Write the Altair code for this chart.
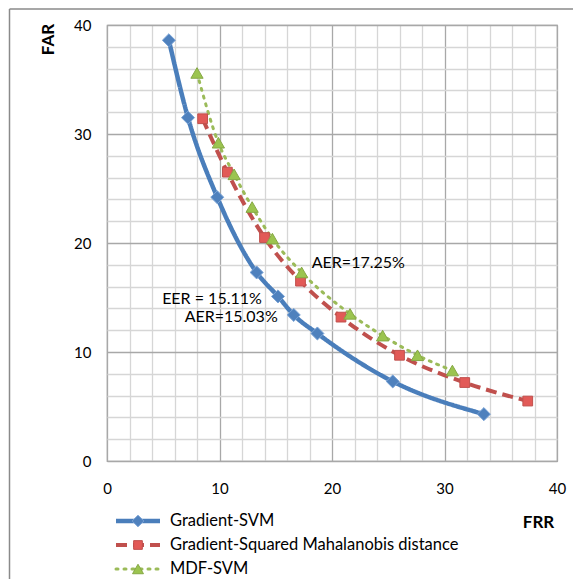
import altair as alt
import pandas as pd

# ---- data ----
series_names = ["Gradient-SVM", "Gradient-Squared Mahalanobis distance", "MDF-SVM"]

frr_svm = [5.5, 7.2, 9.8, 13.3, 15.2, 16.6, 18.7, 25.4, 33.5]
far_svm = [38.6, 31.5, 24.2, 17.3, 15.1, 13.4, 11.7, 7.3, 4.3]

frr_mah = [8.5, 10.7, 14.0, 17.2, 20.8, 26.0, 31.8, 37.4]
far_mah = [31.4, 26.5, 20.5, 16.5, 13.2, 9.7, 7.2, 5.5]

frr_mdf = [8.0, 9.9, 11.3, 12.9, 14.7, 17.3, 21.6, 24.5, 27.6, 30.7]
far_mdf = [35.6, 29.2, 26.3, 23.3, 20.4, 17.3, 13.5, 11.5, 9.7, 8.3]

ann_text = ["AER=17.25%", "EER = 15.11%", "AER=15.03%"]
ann_x = [18.2, 4.9, 6.9]
ann_y = [18.2, 14.85, 13.2]

tick_values = list(range(0, 41, 2))

FONT = "Lato"

# ---- styles ----
styles = [
    dict(line="#4A7EBB", width=4.5, dash=[1, 0], shape="diamond", size=170,
         fill="#4F81BD", stroke="#7AA3D6"),
    dict(line="#C0504D", width=4, dash=[11, 6], shape="square", size=95,
         fill="#E25A57", stroke="#C0504D"),
    dict(line="#9BBB59", width=3, dash=[2, 6], shape="triangle-up", size=150,
         fill="#9BC44F", stroke="#86A845"),
]
data_x = [frr_svm, frr_mah, frr_mdf]
data_y = [far_svm, far_mah, far_mdf]

grid_color = {"condition": {"test": "datum.value % 10 === 0", "value": "#a8a8a8"},
              "value": "#d6d6d6"}

xaxis = alt.Axis(values=tick_values, labelExpr="datum.value % 10 === 0 ? datum.label : ''",
                 grid=True, gridColor=grid_color, gridWidth=1.3, domain=False, ticks=False,
                 labelFlush=False, labelOverlap=False,
                 labelPadding=20, labelFontSize=15, labelFont=FONT, labelColor="#000",
                 title="FRR", titleFont=FONT, titleFontSize=17, titleFontWeight="bold",
                 titleX=431, titleY=61, titleBaseline="middle", titleAlign="center",
                 titleColor="#000")
yaxis = alt.Axis(values=tick_values, labelExpr="datum.value % 10 === 0 ? datum.label : ''",
                 grid=True, gridColor=grid_color, gridWidth=1.3, domain=False, ticks=False,
                 labelFlush=False, labelOverlap=False,
                 labelPadding=16, labelFontSize=15, labelFont=FONT, labelColor="#000",
                 title="FAR", titleFont=FONT, titleFontSize=17, titleFontWeight="bold",
                 titleX=-59, titleY=14, titleBaseline="middle", titleAlign="center",
                 titleAngle=270, titleColor="#000")

xs = alt.Scale(domain=[0, 40], nice=False)
ys = alt.Scale(domain=[0, 40], nice=False)
X = alt.X("FRR:Q", scale=xs, axis=xaxis)
Y = alt.Y("FAR:Q", scale=ys, axis=yaxis)

main_layers = []
for i, st in enumerate(styles):
    df = pd.DataFrame({"FRR": data_x[i], "FAR": data_y[i]})
    main_layers.append(
        alt.Chart(df).mark_line(color=st["line"], strokeWidth=st["width"],
                                strokeDash=st["dash"], interpolate="monotone",
                                strokeCap="round" if i == 2 else "butt")
        .encode(x=X, y=Y)
    )
for i, st in enumerate(styles):
    df = pd.DataFrame({"FRR": data_x[i], "FAR": data_y[i]})
    main_layers.append(
        alt.Chart(df).mark_point(shape=st["shape"], size=st["size"], filled=True,
                                 fill=st["fill"], stroke=st["stroke"], strokeWidth=1,
                                 opacity=1)
        .encode(x=X, y=Y)
    )

ann_df = pd.DataFrame({"FRR": ann_x, "FAR": ann_y, "label": ann_text})
main_layers.append(
    alt.Chart(ann_df).mark_text(align="left", baseline="middle", font=FONT,
                                fontSize=16, color="#000")
    .encode(x=X, y=Y, text="label:N")
)

main = alt.layer(*main_layers)

# ---- legend built from the series names ----
leg_scale = alt.Scale(domain=[0, 2], range=[496, 544], nice=False, zero=False)
leg_layers = []
for i, st in enumerate(styles):
    ldf = pd.DataFrame({"series": [series_names[i]], "row": [i]})
    LY = alt.Y("row:Q", scale=leg_scale, axis=None)
    leg_layers.append(
        alt.Chart(ldf).mark_rule(color=st["line"], strokeWidth=st["width"],
                                 strokeDash=st["dash"],
                                 strokeCap="round" if i == 2 else "butt")
        .encode(x=alt.value(9), x2=alt.value(53), y=LY)
    )
    leg_layers.append(
        alt.Chart(ldf).mark_point(shape=st["shape"], size=st["size"] * 0.8, filled=True,
                                  fill=st["fill"], stroke=st["stroke"], strokeWidth=1,
                                  opacity=1)
        .encode(x=alt.value(31), y=LY)
    )
    leg_layers.append(
        alt.Chart(ldf).mark_text(align="left", baseline="middle", font=FONT,
                                 fontSize=16.5, color="#000")
        .encode(x=alt.value(63), y=LY, text="series:N")
    )
legend = alt.layer(*leg_layers)

# outer frame (top and left edges)
frame_df = pd.DataFrame({"k": [0]})
frame = alt.layer(
    alt.Chart(frame_df).mark_rule(color="#8a8a8a", strokeWidth=1.5)
    .encode(x=alt.value(-97.5), x2=alt.value(470), y=alt.value(-16)),
    alt.Chart(frame_df).mark_rule(color="#8a8a8a", strokeWidth=1.5)
    .encode(x=alt.value(-97.5), y=alt.value(-16), y2=alt.value(560)),
)

chart = (
    alt.layer(frame, main, legend)
    .resolve_scale(y="independent")
    .properties(width=450, height=436,
                autosize=alt.AutoSizeParams(type="none"),
                padding={"left": 99, "top": 17, "right": 16, "bottom": 118},
                background="white")
    .configure_view(stroke="#a0a0a0", strokeWidth=1.2)
)

chart.save("out.html", embed_options={"renderer": "svg", "actions": False})
